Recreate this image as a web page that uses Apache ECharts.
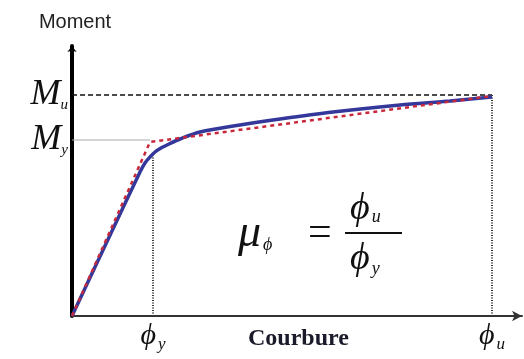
<!DOCTYPE html>
<html><head><meta charset="utf-8">
<script src="https://cdn.jsdelivr.net/npm/echarts@6/dist/echarts.min.js"></script>
<style>html,body{margin:0;padding:0;background:#fff}#c{width:524px;height:359px}</style>
</head><body><div id="c"></div>
<script>
// Actual moment-curvature curve (curvature, moment)
const curveX = [0, 40, 68, 73, 78, 83, 89, 97, 108, 128, 168, 208, 261, 328, 378, 420];
const curveY = [0, 85, 144, 153, 159, 164, 168, 172, 177, 184, 191, 197, 204, 211, 215, 219];
// Idealised bilinear curve
const bilinX = [0, 78, 420];
const bilinY = [0, 174, 220];
// Characteristic values
const phiY = 81, phiU = 420;
const My = 176, Mu = 221;
const phiYTop = 160;
const xTickLabels = ['y', 'u'];
const yTickLabels = ['y', 'u'];

const chart = echarts.init(document.getElementById('c'));
const pts = (xs, ys) => xs.map((x, i) => [x, ys[i]]);
chart.setOption({
  animation: false,
  grid: {left: 72, right: 2, top: 46, bottom: 43},
  xAxis: {
    type: 'value', min: 0, max: 450,
    splitLine: {show: false},
    axisTick: {show: false},
    axisLine: {onZero: false, lineStyle: {color: '#333', width: 2}, symbol: ['none', 'arrow'], symbolSize: [8, 10]},
    axisLabel: {
      customValues: [phiY, phiU], margin: 4,
      formatter: v => '{p|ϕ}{s|' + (v === phiY ? xTickLabels[0] : xTickLabels[1]) + '}',
      rich: {
        p: {fontFamily: 'Liberation Serif', fontStyle: 'italic', fontSize: 30, color: '#111'},
        s: {fontFamily: 'Liberation Serif', fontStyle: 'italic', fontSize: 17, color: '#111', padding: [16, 0, 0, 2]}
      }
    }
  },
  yAxis: {
    type: 'value', min: 0, max: 270,
    name: 'Moment', nameLocation: 'end', nameGap: 14,
    nameTextStyle: {fontFamily: 'Liberation Sans', fontSize: 20, color: '#222', align: 'center', padding: [0, 0, 0, 6]},
    splitLine: {show: false},
    axisTick: {show: false},
    axisLine: {lineStyle: {color: '#000', width: 4}, symbol: ['none', 'arrow'], symbolSize: [7, 6]},
    axisLabel: {
      customValues: [My, Mu], margin: 4,
      formatter: v => '{m|M}{s|' + (v === My ? yTickLabels[0] : yTickLabels[1]) + '}',
      rich: {
        m: {fontFamily: 'Liberation Serif', fontStyle: 'italic', fontSize: 36, color: '#111'},
        s: {fontFamily: 'Liberation Serif', fontStyle: 'italic', fontSize: 15, color: '#111', padding: [20, 0, 0, 0]}
      }
    }
  },
  series: [
    {type: 'line', data: [[0, Mu], [phiU, Mu]], symbol: 'none', silent: true,
     lineStyle: {color: '#111', width: 1.5, type: [5, 3]}},
    {type: 'line', data: [[0, My], [78, My]], symbol: 'none', silent: true,
     lineStyle: {color: '#aaa', width: 1}},
    {type: 'line', data: [[phiY, 0], [phiY, phiYTop]], symbol: 'none', silent: true,
     lineStyle: {color: '#333', width: 2, type: [1, 1.5]}},
    {type: 'line', data: [[phiU, 0], [phiU, Mu]], symbol: 'none', silent: true,
     lineStyle: {color: '#333', width: 2, type: [1, 1.5]}},
    {type: 'line', data: pts(curveX, curveY), symbol: 'none', smooth: 0.3,
     lineStyle: {color: '#34389a', width: 3.5}},
    {type: 'line', data: pts(bilinX, bilinY), symbol: 'none',
     lineStyle: {color: '#c8283c', width: 2.5, type: [4, 4]}}
  ],
  graphic: [
    {type: 'text', left: 248, top: 327,
     style: {text: 'Courbure', font: 'bold 24px "Liberation Serif"', fill: '#1a1a2a'}},
    {type: 'text', left: 238, top: 211,
     style: {text: '{mu|μ}{s|ϕ}', rich: {
       mu: {font: 'italic 46px "Liberation Serif"', fill: '#111'},
       s: {font: 'italic 18px "Liberation Serif"', fill: '#111', padding: [22, 0, 0, 2]}}}},
    {type: 'text', left: 308, top: 213,
     style: {text: '=', font: '42px "Liberation Serif"', fill: '#111'}},
    {type: 'line', shape: {x1: 345, y1: 233, x2: 402, y2: 233}, style: {stroke: '#111', lineWidth: 2}},
    {type: 'text', left: 350, top: 190,
     style: {text: '{p|ϕ}{s|u}', rich: {
       p: {font: 'italic 38px "Liberation Serif"', fill: '#111'},
       s: {font: 'italic 18px "Liberation Serif"', fill: '#111', padding: [16, 0, 0, 2]}}}},
    {type: 'text', left: 350, top: 240,
     style: {text: '{p|ϕ}{s|y}', rich: {
       p: {font: 'italic 38px "Liberation Serif"', fill: '#111'},
       s: {font: 'italic 18px "Liberation Serif"', fill: '#111', padding: [20, 0, 0, 2]}}}}
  ]
});
</script></body></html>
